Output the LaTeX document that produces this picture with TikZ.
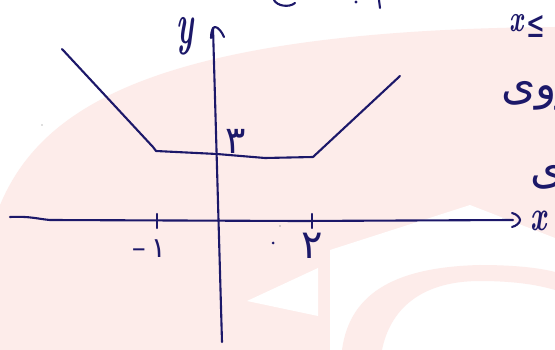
\documentclass[tikz,border=0pt]{standalone}
\usepackage{fontspec}
\newfontfamily\fa[Script=Arabic]{DejaVu Sans}
\newfontfamily\djv{DejaVu Sans}
\TeXXeTstate=1
\definecolor{ink}{RGB}{28,24,105}
\definecolor{wm}{RGB}{253,236,234}
\begin{document}
\begin{tikzpicture}[x=1pt,y=-1pt,
  inkline/.style={draw=ink,line width=2.1pt,line cap=round,line join=round},
  lbl/.style={text=ink,inner sep=0pt}]
\useasboundingbox (0,0) rectangle (555,350);
\fill[white] (0,0) rectangle (555,350);
% watermark
\fill[wm] (0,350) -- (0,205) .. controls (40,110) and (150,30) .. (555,27) -- (555,350) -- cycle;
\fill[white] (247,301) -- (318,268) -- (318,316) -- cycle;
\fill[white] (330,350) -- (330,250) -- (470,205) -- (555,238) -- (555,350) -- cycle;
\fill[wm] (342,350) .. controls (350,290) and (400,267) .. (480,265) .. controls (515,265) and (540,268) .. (555,272) -- (555,290) .. controls (535,284) and (510,281) .. (480,281) .. controls (420,281) and (390,310) .. (382,350) -- cycle;

% axes
\coordinate (ytop) at (213,28);
\coordinate (ybot) at (222,342);
\draw[inkline] (ybot) -- (ytop);
\draw[inkline] (211,38) .. controls (211,31) and (213,27) .. (215,27) .. controls (218,27) and (222,32) .. (224,37);
\coordinate (xl) at (10,217);
\coordinate (xr) at (513,220);
\draw[inkline] (xl) .. controls (30,216) and (38,219) .. (50,220) -- (300,221) -- (xr);
\draw[inkline] (512,213) .. controls (517,214) and (520,218) .. (520,220) .. controls (520,223) and (516,226) .. (512,227);

% ticks
\coordinate (tm1) at (157,221);
\coordinate (t2) at (312,221);
\draw[inkline] ([yshift=-7pt]tm1) -- ([yshift=7pt]tm1);
\draw[inkline] ([yshift=-7pt]t2) -- ([yshift=7pt]t2);

% graph
\coordinate (p0) at (62,49);
\coordinate (p1) at (153,147);
\coordinate (p2) at (156,151);
\coordinate (p3) at (217,154);
\coordinate (p4) at (265,158);
\coordinate (p5) at (313,157);
\coordinate (p6) at (400,76);
\draw[inkline] (p0) -- (p1) -- (p2) -- (p3) -- (p4) -- (p5) -- (p6);

% labels
\node[lbl,font=\fontsize{34}{34}\selectfont\bfseries\itshape] (ylab) at (185,36) {\scalebox{0.9}[1.7]{y}};
\node[lbl,font=\fontsize{32}{32}\selectfont\bfseries\itshape] (xlab) at (539,221) {\scalebox{0.9}[1.35]{x}};
\node[lbl,font=\fa\fontsize{38}{38}\selectfont] (three) at (236,141) {۳};
\node[lbl,font=\fa\fontsize{40}{40}\selectfont] (two) at (312,246) {۲};
\node[lbl,font=\fa\fontsize{28}{28}\selectfont] (mone) at (149,249) {–\hspace{5pt}۱};

% right margin fragments
\node[lbl,font=\fontsize{28}{28}\selectfont\bfseries\itshape] (rx) at (517,23) {\scalebox{0.9}[1.35]{x}};
\node[lbl,font=\djv\fontsize{28}{28}\selectfont] (rle) at (536,27) {\scalebox{0.8}[1.35]{≤}};
\node[lbl,font=\fa\fontsize{44}{44}\selectfont,anchor=base west] (r2) at (501,100) {\beginR روی\endR};
\node[lbl,font=\fa\fontsize{44}{44}\selectfont,anchor=base west] (r3) at (530,184) {\beginR ی\endR};

% top fragments
\draw[inkline] (274,0) .. controls (277,6) and (289,8) .. (295,3);
\fill[ink] (356,2) circle (1.6pt);
\draw[inkline] (379,0) -- (380,8);

% stray dots
\fill[ink] (273,243) circle (1.5pt);
\fill[gray!70] (280,226) circle (0.9pt);
\fill[gray!50] (42,125) circle (0.9pt);
\end{tikzpicture}
\end{document}
